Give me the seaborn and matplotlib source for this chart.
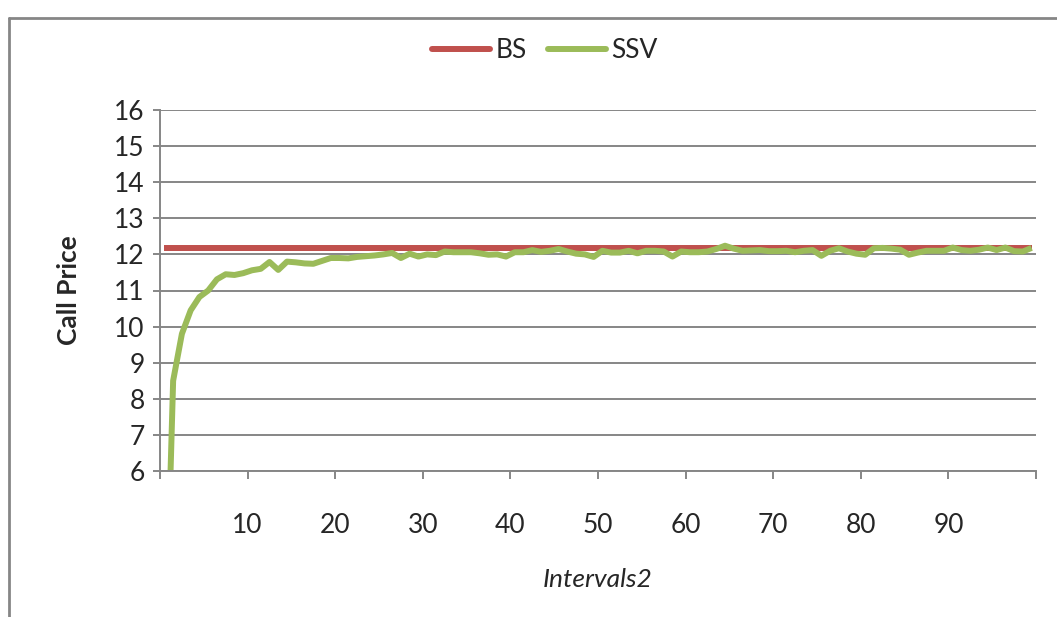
import matplotlib
matplotlib.use("Agg")
import matplotlib.pyplot as plt
import matplotlib.lines as mlines
import numpy as np
import pandas as pd
import seaborn as sns

# ---- data ----
intervals = list(range(1, 101))
ssv = [0.0, 8.5, 9.8, 10.45, 10.82, 11.0, 11.31, 11.45, 11.43, 11.48,
       11.56, 11.6, 11.79, 11.57, 11.8, 11.78, 11.75, 11.74, 11.82, 11.9,
       11.9, 11.89, 11.93, 11.95, 11.97, 12.0, 12.04, 11.9, 12.02, 11.94,
       12.0, 11.98, 12.08, 12.06, 12.06, 12.06, 12.03, 11.99, 12.0, 11.94,
       12.06, 12.06, 12.12, 12.07, 12.1, 12.15, 12.08, 12.02, 12.0, 11.93,
       12.1, 12.05, 12.05, 12.1, 12.03, 12.1, 12.1, 12.08, 11.94, 12.08,
       12.06, 12.06, 12.08, 12.15, 12.24, 12.16, 12.1, 12.11, 12.12, 12.09,
       12.09, 12.1, 12.06, 12.1, 12.12, 11.96, 12.1, 12.17, 12.08, 12.02,
       11.99, 12.17, 12.18, 12.16, 12.13, 11.99, 12.05, 12.1, 12.1, 12.1,
       12.19, 12.12, 12.1, 12.13, 12.19, 12.12, 12.19, 12.09, 12.08, 12.18]
bs = [12.19] * len(intervals)
series_names = ["BS", "SSV"]
series_colors = ["#C0504D", "#9BBB59"]
y_ticks = list(range(6, 17))
x_tick_labels = ["", "10", "20", "30", "40", "50", "60", "70", "80", "90", ""]

df = pd.DataFrame({
    "Intervals2": intervals * 2,
    "Call Price": bs + ssv,
    "Series": ["BS"] * len(bs) + ["SSV"] * len(ssv),
})

sns.set_style("white")
plt.rcParams["font.family"] = ["Lato", "DejaVu Sans"]

fig = plt.figure(figsize=(10.57, 6.17), dpi=100)
ax = fig.add_axes([160 / 1057, 1 - 471 / 617, (1036 - 160) / 1057, (471 - 110) / 617])

sns.lineplot(data=df, x="Intervals2", y="Call Price", hue="Series",
             palette=dict(zip(series_names, series_colors)), linewidth=4.3,
             ax=ax, legend=False)
for ln in ax.get_lines():
    ln.set_solid_capstyle("butt")
    ln.set_solid_joinstyle("round")
    ln.set_clip_on(True)

grid_c = "#868686"
ax.set_ylim(6, 16)
ax.set_xlim(0.5, 100.5)
ax.set_yticks(y_ticks)
ax.set_xticks([0.5 + 10 * k for k in range(11)])
ax.set_xticklabels(x_tick_labels)
ax.yaxis.grid(True, color=grid_c, linewidth=1.4)
ax.xaxis.grid(False)
ax.set_axisbelow(True)
for s in ["top", "right"]:
    ax.spines[s].set_visible(False)
for s in ["left", "bottom"]:
    ax.spines[s].set_color(grid_c)
    ax.spines[s].set_linewidth(1.4)
ax.tick_params(axis="y", which="major", direction="out", length=5, width=1.4,
               color=grid_c, labelsize=19, pad=6, left=True)
ax.tick_params(axis="x", which="major", direction="out", length=6, width=1.4,
               color=grid_c, labelsize=19, pad=24, bottom=True)

ax.set_xlabel("Intervals2", fontsize=19, style="italic", labelpad=22)
ax.set_ylabel("Call Price", fontsize=19, fontweight="bold", labelpad=24)

handles = [mlines.Line2D([], [], color=c, linewidth=4.3) for c in series_colors]
fig.legend(handles, series_names, loc="center", bbox_to_anchor=(545 / 1057, 1 - 51 / 617),
           ncol=2, frameon=False, fontsize=19, handlelength=2.2, handletextpad=0.2,
           columnspacing=0.8)

# outer chart frame (Excel-like)
fig.add_artist(mlines.Line2D([9 / 1057, 9 / 1057], [0, 1 - 18 / 617], color=grid_c,
                             linewidth=2.0, transform=fig.transFigure))
fig.add_artist(mlines.Line2D([9 / 1057, 1], [1 - 18 / 617, 1 - 18 / 617], color=grid_c,
                             linewidth=2.0, transform=fig.transFigure))

fig.savefig("out.png", dpi=100)
